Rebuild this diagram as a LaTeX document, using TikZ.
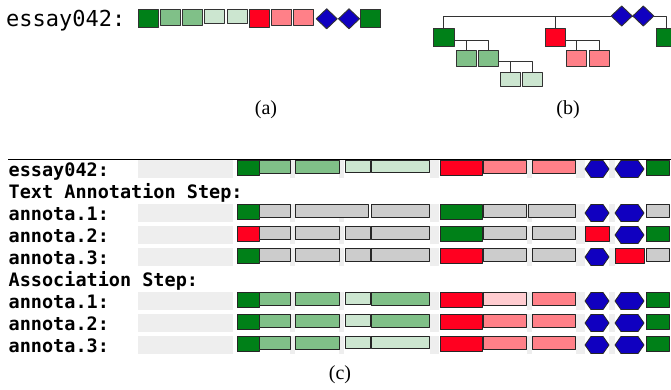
\documentclass[tikz,border=0pt]{standalone}
\usepackage{fontspec}
\setmainfont{Liberation Serif}
\newfontfamily\monofont{DejaVu Sans Mono}
\usetikzlibrary{shapes.geometric,shapes.symbols}

\definecolor{dgreen}{RGB}{0,128,24}
\definecolor{mgreen}{RGB}{128,192,136}
\definecolor{lgreen}{RGB}{204,230,208}
\definecolor{dred}{RGB}{255,0,32}
\definecolor{mred}{RGB}{255,128,136}
\definecolor{lred}{RGB}{255,204,208}
\definecolor{dblue}{RGB}{16,0,192}
\definecolor{cellgray}{RGB}{204,204,204}
\definecolor{bggray}{RGB}{238,238,238}

\newcommand{\cellrow}[2]{%
  \foreach \gx/\gw in {138/95,290/5,339/5,430/9,527/5,576/9,609/6} {
      \fill [bggray] (\gx,160+22*#1) rectangle ++(\gw,17.5);
    }
  \foreach \cx/\cw/\cs [count=\ci] in {#2} {
      \node [style=\cs, minimum width=\cw pt] (c#1-\ci) at (\cx,160.5+22*#1) {};
    }
}

\begin{document}
\begin{tikzpicture}[x=1pt,y=-1pt,line join=round,
    tok/.style={draw=black!80, line width=0.9pt, inner sep=0pt, outer sep=0pt, minimum width=20pt, anchor=north west},
    tg1/.style={tok, fill=dgreen, minimum height=18.5pt},
    tg2/.style={tok, fill=mgreen, minimum height=16pt},
    tg3/.style={tok, fill=lgreen, minimum height=14pt},
    tr1/.style={tok, fill=dred, minimum height=18.5pt},
    tr2/.style={tok, fill=mred, minimum height=16pt},
    tdm/.style={draw=black!80, line width=0.9pt, shape=diamond, fill=dblue, inner sep=0pt, outer sep=0pt, minimum width=21pt, minimum height=20pt},
    wire/.style={draw=black!80, line width=0.9pt},
    cbox/.style={draw=black!85, line width=0.8pt, inner sep=0pt, outer sep=0pt, anchor=north west},
    cdg/.style={cbox, fill=dgreen, minimum height=15pt},
    clg/.style={cbox, fill=mgreen, minimum height=13pt},
    cvl/.style={cbox, fill=lgreen, minimum height=11.5pt},
    crd/.style={cbox, fill=dred, minimum height=15pt},
    cpk/.style={cbox, fill=mred, minimum height=13pt},
    cvp/.style={cbox, fill=lred, minimum height=13pt},
    cgy/.style={cbox, fill=cellgray, minimum height=13pt},
    chx/.style={cbox, shape=signal, signal to=east and west, signal pointer angle=110, fill=dblue, minimum height=17pt, anchor=west, yshift=-8.5pt},
    lbl/.style={anchor=base west, inner sep=0pt, font=\monofont\bfseries\fontsize{18.5}{20}\selectfont},
    capt/.style={font=\fontsize{20}{22}\selectfont}]
  \useasboundingbox (0,0) rectangle (671,389);

  \node [anchor=base west, inner sep=0pt, font=\monofont\fontsize{22}{24}\selectfont] (aname) at (6,26.5) {essay042:};
  \foreach \s [count=\i] in {tg1,tg2,tg2,tg3,tg3,tr1,tr2,tr2} {
      \node [style=\s] (a\i) at (138+22.27*\i-22.27,9) {};
    }
  \node [tdm] (a9) at (326.7,18.8) {};
  \node [tdm] (a10) at (349,18.8) {};
  \node [tg1] (a11) at (360.7,9) {};

  \node [tg1, minimum width=20.7pt] (b1) at (433.3,28.3) {};
  \node [tg2] (b2) at (456,50.7) {};
  \node [tg2] (b3) at (478.3,50.7) {};
  \node [tg3] (b4) at (500,72.7) {};
  \node [tg3] (b5) at (522.3,72.7) {};
  \node [tr1] (b6) at (545,28.3) {};
  \node [tr2] (b7) at (566.7,50.7) {};
  \node [tr2] (b8) at (589,50.7) {};
  \node [tdm] (b9) at (621.7,16) {};
  \node [tdm] (b10) at (643.3,16) {};
  \node [tg1] (b11) at (656,28.3) {};
  \draw [wire] (b9.west) -| (b1.north);
  \draw [wire] (b9.west) -| (b6.north);
  \draw [wire] (b9.east) -- (b10.west);
  \draw [wire] (b10.east) -| (b11.north);
  \draw [wire] ([yshift=-2.5pt]b1.east) -| (b2.north);
  \draw [wire] ([yshift=-2.5pt]b1.east) -| (b3.north);
  \draw [wire] ([yshift=-3pt]b3.east) -| (b4.north);
  \draw [wire] ([yshift=-3pt]b3.east) -| (b5.north);
  \draw [wire] ([yshift=-2.5pt]b6.east) -| (b7.north);
  \draw [wire] ([yshift=-2.5pt]b6.east) -| (b8.north);

  \node [capt] (capa) at (266,110) {(a)};
  \node [capt] (capb) at (568,110) {(b)};

  \draw [line width=1.3pt] (8,159.3) -- (671,159.3);
  \foreach \t [count=\k from 0] in {essay042:,Text Annotation Step:,annota.1:,annota.2:,annota.3:,Association Step:,annota.1:,annota.2:,annota.3:} {
      \node [lbl] (l\k) at (8.5,176+22*\k) {\t};
    }
  \cellrow{0}{237/22/cdg,259/31/clg,295/44/clg,345/25/cvl,371/58/cvl,440/42/crd,483/43/cpk,532/43/cpk,585/24/chx,615/29/chx,646/23/cdg}
  \cellrow{2}{237/22/cdg,259/31/cgy,295/73/cgy,371/58/cgy,440/42/cdg,483/43/cgy,528/47/cgy,585/24/chx,615/29/chx,646/23/cgy}
  \cellrow{3}{237/22/crd,259/31/cgy,295/44/cgy,345/25/cgy,371/58/cgy,440/42/cdg,483/43/cgy,532/43/cgy,585/24/crd,615/29/chx,646/23/cdg}
  \cellrow{4}{237/22/cdg,259/31/cgy,295/44/cgy,345/25/cgy,371/58/cgy,440/42/crd,483/43/cgy,532/43/cgy,585/24/chx,615/29/crd,646/23/cgy}
  \cellrow{6}{237/22/cdg,259/31/clg,295/44/clg,345/25/cvl,371/58/clg,440/42/crd,483/43/cvp,532/43/cpk,585/24/chx,615/29/chx,646/23/cdg}
  \cellrow{7}{237/22/cdg,259/31/clg,295/44/clg,345/25/cvl,371/58/clg,440/42/crd,483/43/cpk,532/43/cpk,585/24/chx,615/29/chx,646/23/cdg}
  \cellrow{8}{237/22/cdg,259/31/clg,295/44/clg,345/25/cvl,371/58/cvl,440/42/crd,483/43/cpk,532/43/cpk,585/24/chx,615/29/chx,646/23/cdg}

  \node [capt] (capc) at (340,375) {(c)};
\end{tikzpicture}
\end{document}
